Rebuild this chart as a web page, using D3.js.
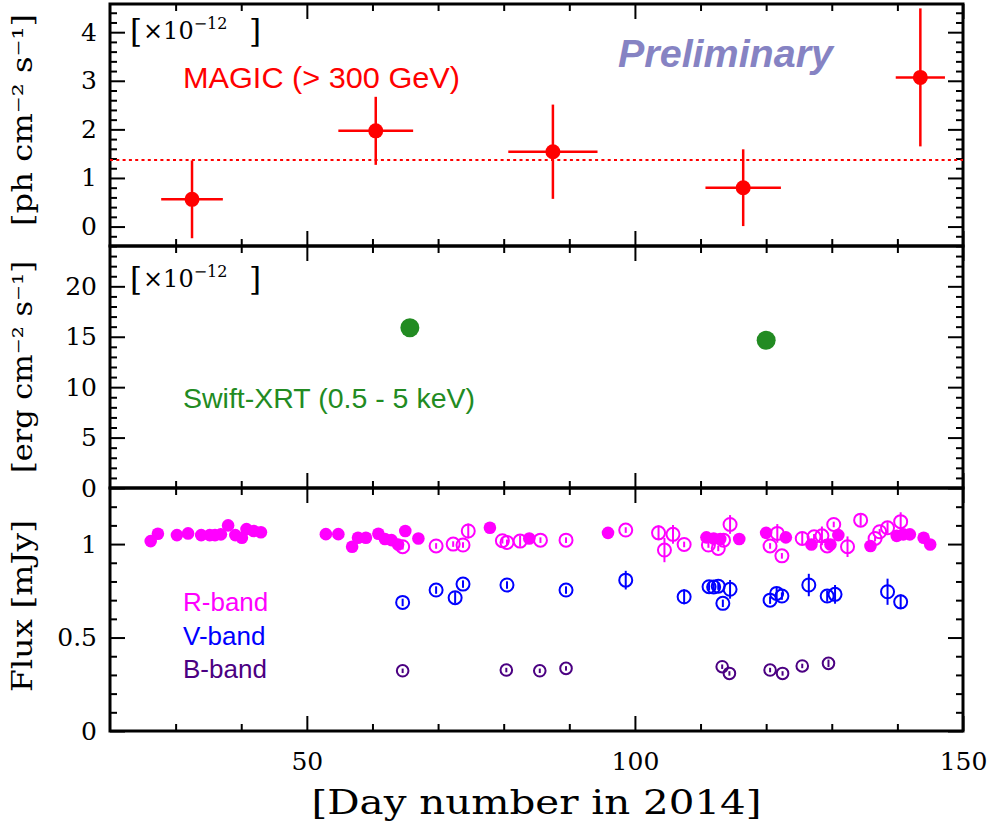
<!DOCTYPE html>
<html>
<head>
<meta charset="utf-8">
<script src="https://cdn.jsdelivr.net/npm/d3@7"></script>
<style>
  body { margin: 0; background: #fff; }
  svg { display: block; }
  .tick text { font-family: "DejaVu Serif", serif; }
</style>
</head>
<body>
<div id="chart"></div>
<script>
// x range of all three panels (day of year)
const dayDomain = [20, 150];
const dayMajor = [50, 100, 150];

// MAGIC (> 300 GeV), flux in 1e-12 ph cm-2 s-1
const magicDay = [32.5, 60.5, 87.5, 116.5, 143.5];
const magicDayErr = [4.7, 5.7, 6.8, 5.75, 3.75];
const magicFlux = [0.56, 1.97, 1.54, 0.80, 3.07];
const magicFluxErr = [0.80, 0.70, 0.97, 0.79, 1.42];
const magicMean = 1.37;

// Swift-XRT (0.5 - 5 keV), flux in 1e-12 erg cm-2 s-1
const xrtDay = [65.7, 120.0];
const xrtFlux = [15.9, 14.65];

// R-band, filled markers (no visible errors)
const rFilledDay = [26.2, 27.3, 30.2, 31.9, 33.9, 35.2, 36.0, 36.9, 38.0, 39.1, 40.1, 40.8, 41.9, 43.0,
  52.9, 54.8, 56.9, 57.8, 59.0, 60.9, 61.9, 62.9, 63.9, 65.0, 67.0, 77.9, 83.9,
  95.9, 110.9, 112.0, 113.0, 115.9, 120.0, 123.0, 126.9, 129.8, 131.0, 135.9, 139.9, 140.9, 141.9, 144.0, 145.0];
const rFilledFlux = [1.016, 1.055, 1.048, 1.057, 1.048, 1.048, 1.048, 1.052, 1.10, 1.048, 1.034, 1.08, 1.07, 1.063,
  1.053, 1.053, 0.986, 1.034, 1.034, 1.055, 1.027, 1.021, 0.998, 1.07, 1.03, 1.087, 1.03,
  1.06, 1.036, 1.03, 1.027, 1.027, 1.06, 1.036, 0.998, 0.998, 1.048, 0.99, 1.044, 1.052, 1.052, 1.034, 0.998];

// R-band, open markers
const rOpenDay = [64.6, 69.7, 72.3, 73.8, 74.6, 79.8, 80.5, 82.5, 85.6, 89.5, 98.6, 103.6, 104.5, 105.8, 107.5,
  111.2, 112.7, 113.5, 114.5, 120.6, 121.7, 122.4, 125.5, 127.3, 128.5, 129.3, 130.3, 132.4, 134.4,
  136.6, 137.3, 138.5, 140.5];
const rOpenFlux = [0.986, 0.99, 1.0, 0.995, 1.07, 1.018, 1.009, 1.016, 1.021, 1.021, 1.075, 1.06, 0.968, 1.052, 0.998,
  0.995, 0.977, 1.021, 1.105, 0.99, 1.057, 0.937, 1.03, 1.039, 1.044, 0.99, 1.105, 0.986, 1.128,
  1.03, 1.066, 1.087, 1.12];
const rOpenErr = [0.015, 0.015, 0.015, 0.015, 0.04, 0.015, 0.015, 0.03, 0.015, 0.015, 0.015, 0.04, 0.065, 0.05, 0.015,
  0.015, 0.015, 0.015, 0.05, 0.015, 0.05, 0.015, 0.03, 0.015, 0.05, 0.015, 0.015, 0.055, 0.03,
  0.015, 0.015, 0.03, 0.05];

// V-band, open markers
const vDay = [64.6, 69.7, 72.6, 73.8, 80.5, 89.5, 98.6, 107.5, 111.3, 112.0, 112.7, 113.4, 114.5,
  120.6, 121.6, 122.4, 126.5, 129.3, 130.5, 138.5, 140.5];
const vFlux = [0.688, 0.754, 0.713, 0.786, 0.781, 0.754, 0.807, 0.718, 0.772, 0.77, 0.775, 0.683, 0.758,
  0.70, 0.736, 0.722, 0.781, 0.722, 0.731, 0.745, 0.691];
const vErr = [0.02, 0.02, 0.03, 0.02, 0.02, 0.02, 0.05, 0.04, 0.02, 0.02, 0.02, 0.02, 0.05,
  0.02, 0.03, 0.02, 0.06, 0.03, 0.05, 0.07, 0.04];

// B-band, open markers
const bDay = [64.6, 80.4, 85.5, 89.5, 113.3, 114.4, 120.6, 122.5, 125.5, 129.5];
const bFlux = [0.322, 0.326, 0.322, 0.335, 0.344, 0.308, 0.326, 0.308, 0.348, 0.362];
const bErr = [0.012, 0.012, 0.012, 0.012, 0.012, 0.012, 0.012, 0.012, 0.012, 0.02];

const width = 997, height = 837;
const left = 110, right = 963;
const panelEdges = [4, 246, 488, 731];

const svg = d3.select("#chart").append("svg")
  .attr("width", width)
  .attr("height", height);

const x = d3.scaleLinear().domain(dayDomain).range([left, right]);
const yTop = d3.scaleLinear().domain([-0.4, 4.58]).range([panelEdges[1], panelEdges[0]]);
const yMid = d3.scaleLinear().domain([0, 24]).range([panelEdges[2], panelEdges[1]]);
const yBot = d3.scaleLinear().domain([0, 1.3]).range([panelEdges[3], panelEdges[2]]);

const dayMinor = d3.range(30, 150, 10).filter(d => dayMajor.indexOf(d) < 0);

function notOn(step) {
  return v => Math.abs(v / step - Math.round(v / step)) > 1e-6;
}

// frame + inward ticks on all four sides
function drawPanel(y, major, minor, fmt, xLabels) {
  let top = y.range()[1], bottom = y.range()[0];
  let g = svg.append("g");

  let add = (axis, tr) => {
    let a = g.append("g").attr("transform", tr).call(axis);
    a.select(".domain").remove();
    a.selectAll("line").attr("stroke", "#000").attr("stroke-width", 2);
    return a;
  };

  let xb = add(d3.axisBottom(x).tickValues(dayMajor).tickSizeInner(-15).tickSizeOuter(0)
      .tickPadding(21).tickFormat(xLabels ? d3.format("d") : ""), `translate(0,${bottom})`);
  xb.selectAll("text").attr("font-size", 25).attr("fill", "#000");
  add(d3.axisBottom(x).tickValues(dayMinor).tickSizeInner(-7).tickSizeOuter(0).tickFormat(""), `translate(0,${bottom})`);
  add(d3.axisTop(x).tickValues(dayMajor).tickSizeInner(-15).tickSizeOuter(0).tickFormat(""), `translate(0,${top})`);
  add(d3.axisTop(x).tickValues(dayMinor).tickSizeInner(-7).tickSizeOuter(0).tickFormat(""), `translate(0,${top})`);

  let yl = add(d3.axisLeft(y).tickValues(major).tickSizeInner(-15).tickSizeOuter(0)
      .tickPadding(13).tickFormat(fmt), `translate(${left},0)`);
  yl.selectAll("text").attr("font-size", 25).attr("fill", "#000");
  add(d3.axisLeft(y).tickValues(minor).tickSizeInner(-7).tickSizeOuter(0).tickFormat(""), `translate(${left},0)`);
  add(d3.axisRight(y).tickValues(major).tickSizeInner(-15).tickSizeOuter(0).tickFormat(""), `translate(${right},0)`);
  add(d3.axisRight(y).tickValues(minor).tickSizeInner(-7).tickSizeOuter(0).tickFormat(""), `translate(${right},0)`);

  g.append("rect")
    .attr("x", left).attr("y", top)
    .attr("width", right - left).attr("height", bottom - top)
    .attr("fill", "none").attr("stroke", "#000").attr("stroke-width", 3);
  return g;
}

const fmt = d3.format("~g");
drawPanel(yTop, [0, 1, 2, 3, 4], d3.range(-2, 23).map(i => i * 0.2).filter(notOn(1)), fmt, false);
drawPanel(yMid, [0, 5, 10, 15, 20], d3.range(1, 24).filter(notOn(5)), fmt, false);
drawPanel(yBot, [0, 0.5, 1], d3.range(1, 13).map(i => i * 0.1).filter(notOn(0.5)), fmt, true);

// [x10^-12] notes
function scaleNote(yBase) {
  let t = svg.append("g").attr("font-family", "DejaVu Serif, serif").attr("fill", "#000");
  t.append("text").attr("x", 130).attr("y", yBase + 3).attr("font-size", 31).attr("font-weight", 300).text("[");
  let s = t.append("text").attr("x", 143).attr("y", yBase).attr("font-size", 24);
  s.append("tspan").text("×10");
  s.append("tspan").attr("font-size", 16).attr("dy", -10).text("−12");
  t.append("text").attr("x", 249).attr("y", yBase + 3).attr("font-size", 31).text("]");
}
scaleNote(39);
scaleNote(287);

// ---- MAGIC panel ----
svg.append("line")
  .attr("x1", left).attr("x2", right)
  .attr("y1", yTop(magicMean)).attr("y2", yTop(magicMean))
  .attr("stroke", "red").attr("stroke-width", 2).attr("stroke-dasharray", "3,3.3");

const magic = magicDay.map((d, i) => ({ d, de: magicDayErr[i], f: magicFlux[i], fe: magicFluxErr[i] }));
const mg = svg.append("g").attr("stroke", "red").attr("stroke-width", 2.5);
mg.selectAll(".hx").data(magic).enter().append("line")
  .attr("x1", p => x(p.d - p.de)).attr("x2", p => x(p.d + p.de))
  .attr("y1", p => yTop(p.f)).attr("y2", p => yTop(p.f));
mg.selectAll(".vy").data(magic).enter().append("line")
  .attr("x1", p => x(p.d)).attr("x2", p => x(p.d))
  .attr("y1", p => yTop(p.f - p.fe)).attr("y2", p => yTop(p.f + p.fe));
svg.selectAll(".magic").data(magic).enter().append("circle")
  .attr("cx", p => x(p.d)).attr("cy", p => yTop(p.f)).attr("r", 7.5).attr("fill", "red");

svg.append("text").attr("x", 183).attr("y", 88)
  .attr("font-family", "Liberation Sans, Arial, sans-serif").attr("font-size", 30).attr("fill", "red")
  .attr("textLength", 277).attr("lengthAdjust", "spacingAndGlyphs")
  .text("MAGIC (> 300 GeV)");
svg.append("text").attr("x", 618).attr("y", 67)
  .attr("font-family", "Liberation Sans, Arial, sans-serif").attr("font-size", 39)
  .attr("font-weight", "bold").attr("font-style", "italic").attr("fill", "#8683c3")
  .attr("textLength", 215).attr("lengthAdjust", "spacingAndGlyphs")
  .text("Preliminary");

// ---- XRT panel ----
svg.selectAll(".xrt").data(xrtDay).enter().append("circle")
  .attr("cx", d => x(d)).attr("cy", (d, i) => yMid(xrtFlux[i])).attr("r", 9.5).attr("fill", "#228b22");
svg.append("text").attr("x", 183).attr("y", 408)
  .attr("font-family", "Liberation Sans, Arial, sans-serif").attr("font-size", 28).attr("fill", "#228b22")
  .attr("textLength", 292).attr("lengthAdjust", "spacingAndGlyphs")
  .text("Swift-XRT (0.5 - 5 keV)");

// ---- optical panel ----
function openSeries(days, flux, err, color, r) {
  let pts = days.map((d, i) => ({ d, f: flux[i], e: err[i] }));
  let g = svg.append("g").attr("stroke", color).attr("stroke-width", 2).attr("fill", "none");
  g.selectAll("line").data(pts).enter().append("line")
    .attr("x1", p => x(p.d)).attr("x2", p => x(p.d))
    .attr("y1", p => yBot(p.f - p.e)).attr("y2", p => yBot(p.f + p.e));
  g.selectAll("circle").data(pts).enter().append("circle")
    .attr("cx", p => x(p.d)).attr("cy", p => yBot(p.f)).attr("r", r);
}

svg.append("g").attr("fill", "#ff00ff").selectAll("circle")
  .data(rFilledDay).enter().append("circle")
  .attr("cx", d => x(d)).attr("cy", (d, i) => yBot(rFilledFlux[i])).attr("r", 6.3);
openSeries(rOpenDay, rOpenFlux, rOpenErr, "#ff00ff", 6.5);
openSeries(vDay, vFlux, vErr, "#0000ff", 6.5);
openSeries(bDay, bFlux, bErr, "#4b0082", 5.8);

const bandNames = ["R-band", "V-band", "B-band"];
const bandColors = ["#ff00ff", "#0000ff", "#4b0082"];
svg.selectAll(".band").data(bandNames).enter().append("text")
  .attr("x", 183).attr("y", (d, i) => 611 + i * 33.5)
  .attr("font-family", "Liberation Sans, Arial, sans-serif").attr("font-size", 26)
  .attr("fill", (d, i) => bandColors[i])
  .text(d => d);

// ---- axis titles ----
function yTitle(parts, cy, len) {
  let t = svg.append("text")
    .attr("transform", `translate(32,${cy}) rotate(-90)`)
    .attr("text-anchor", "middle")
    .attr("font-family", "DejaVu Serif, serif").attr("font-size", 27).attr("fill", "#000")
    .attr("textLength", len).attr("lengthAdjust", "spacingAndGlyphs");
  t.text(parts);
}
yTitle("[ph cm⁻² s⁻¹]", 120, 212);
yTitle("[erg cm⁻² s⁻¹]", 367, 212);
yTitle("Flux [mJy]", 606, 172);

svg.append("text")
  .attr("x", (left + right) / 2).attr("y", 814)
  .attr("text-anchor", "middle")
  .attr("font-family", "DejaVu Serif, serif").attr("font-size", 34).attr("fill", "#000")
  .attr("textLength", 450).attr("lengthAdjust", "spacingAndGlyphs")
  .text("[Day number in 2014]");
</script>
</body>
</html>
